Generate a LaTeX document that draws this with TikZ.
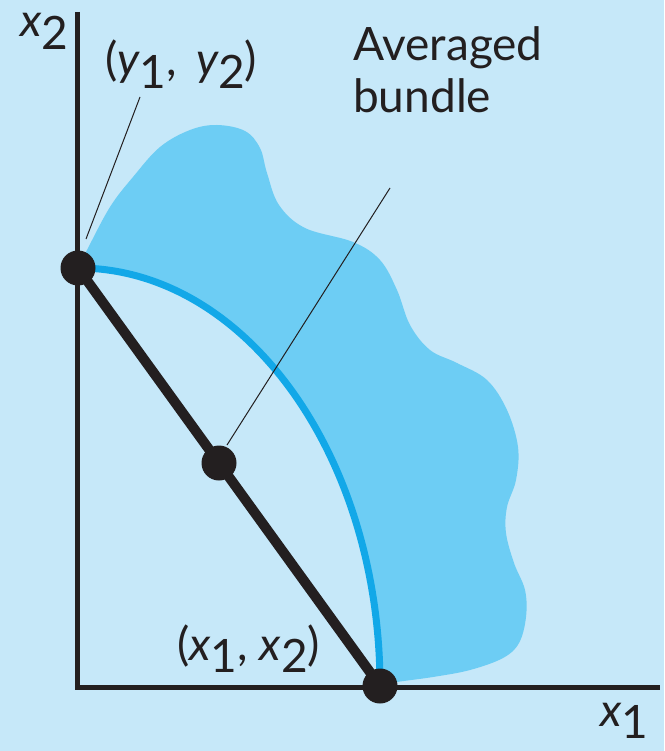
\documentclass[tikz,border=0pt]{standalone}
\usepackage{fontspec}
\setmainfont{Lato}
\definecolor{bg}{HTML}{C6E8F9}
\definecolor{blob}{HTML}{6DCDF4}
\definecolor{curve}{HTML}{12A8E8}
\definecolor{ink}{HTML}{231F20}
\newcommand{\mysub}[1]{\raisebox{-0.28em}{#1}}
\begin{document}
\begin{tikzpicture}[x=1pt,y=-1pt,
  lbl/.style={inner sep=0pt,anchor=base west,text=ink,font=\fontsize{46}{52}\selectfont},
  dot/.style={circle,fill=ink,inner sep=0pt,minimum size=35pt},
  axis/.style={draw=ink,line width=5pt},
  leader/.style={draw=ink,line width=1pt}]
\fill[bg] (0,0) rectangle (664,751);
\useasboundingbox (0,0) rectangle (664,751);
% blob
\fill[blob] plot[smooth,tension=0.6] coordinates {(78,268) (87,250) (110,207) (133,177) (160,147) (190,130) (217,125) (245,131) (260,148) (267,173) (279,205) (305,228) (353,242) (380,260) (397,290) (410,325) (430,350) (457,363) (487,380) (507,410) (518,447) (516,480) (507,507) (506,533) (514,563) (525,590) (526,617) (519,643) (503,658) (470,670) (433,677) (397,682) (380,686)}
  arc[start angle=0,end angle=-90,x radius=302,y radius=418] -- cycle;
% axes
\coordinate (top) at (77,12);
\coordinate (O) at (77,687);
\coordinate (right) at (660,687);
\draw[axis] (top) -- (O) -- (right);
% blue curve
\draw[curve,line width=7pt] (380,686) arc[start angle=0,end angle=-90,x radius=302,y radius=418];
% black line
\node[dot] (Y) at (78,268) {};
\node[dot] (X) at (380,686) {};
\node[dot] (M) at (219,463) {};
\draw[ink,line width=10pt] (Y.center) -- (X.center);
% labels
\node[lbl] (lx2) at (20,37) {\itshape x\upshape\mysub{2}};
\node[lbl] (ly) at (105,76) {(\itshape y\upshape\mysub{1},\, \itshape y\upshape\mysub{2})};
\node[lbl,align=left] (lab) at (353,113) {Averaged\\bundle};
\node[lbl] (lxx) at (177,660) {(\itshape x\upshape\mysub{1}, \itshape x\upshape\mysub{2})};
\node[lbl,text depth=0pt] (lx1) at (600,726) {\itshape x\upshape\mysub{1}};
% leaders
\coordinate (ly1) at (140,97);
\coordinate (ly2) at (86,239);
\draw[leader] (ly1) -- (ly2);
\coordinate (lb1) at (390,188);
\coordinate (lb2) at (227,445);
\draw[leader] (lb1) -- (lb2);
\end{tikzpicture}
\end{document}
